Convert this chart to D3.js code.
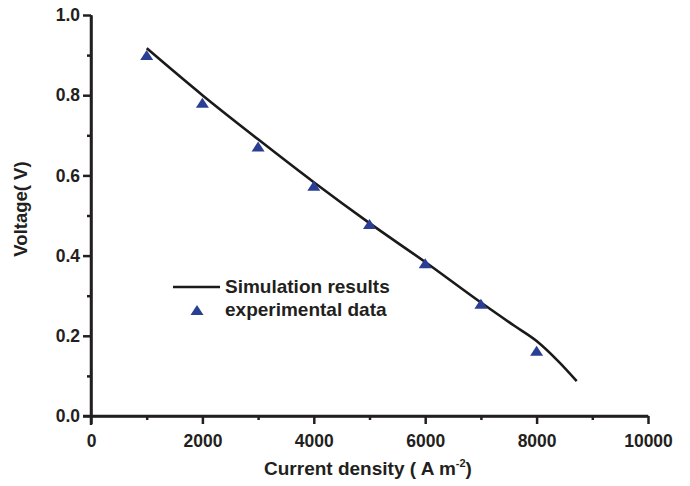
<!DOCTYPE html>
<html>
<head>
<meta charset="utf-8">
<script src="https://cdn.jsdelivr.net/npm/d3@7"></script>
<style>
  body { margin: 0; background: #fff; }
  svg text { font-family: "Liberation Sans", Arial, sans-serif; font-weight: bold; fill: #231f20; }
</style>
</head>
<body>
<div id="chart"></div>
<script>
// simulated polarisation curve
const simCurrent = [1000, 2000, 3000, 4000, 5000, 6000, 7000, 7600, 8000, 8400, 8720];
const simVoltage = [0.917, 0.80, 0.69, 0.583, 0.481, 0.384, 0.283, 0.225, 0.187, 0.135, 0.087];

// experimental points
const expCurrent = [1000, 2000, 3000, 4000, 5000, 6000, 7000, 8000];
const expVoltage = [0.90, 0.781, 0.672, 0.574, 0.479, 0.381, 0.28, 0.163];

const xTicks = [0, 2000, 4000, 6000, 8000, 10000];
const xMinor = [1000, 3000, 5000, 7000, 9000];
const yTicks = [0.0, 0.2, 0.4, 0.6, 0.8, 1.0];
const yMinor = [0.1, 0.3, 0.5, 0.7, 0.9];

const width = 690, height = 486;
const ink = "#231f20";
const blue = "#2a3f94";

const svg = d3.select("#chart").append("svg")
    .attr("width", width)
    .attr("height", height);

const x = d3.scaleLinear().domain([0, 10000]).range([91, 648]);
const y = d3.scaleLinear().domain([0, 1]).range([416, 15]);

function styleAxis(g){
    g.select(".domain").attr("stroke", ink).attr("stroke-width", 2.5);
    g.selectAll(".tick line").attr("stroke", ink).attr("stroke-width", 2.5);
    g.selectAll(".tick text").attr("font-size", 17.5);
}

// x axis
svg.append("g")
    .attr("transform", "translate(0," + y(0) + ")")
    .call(d3.axisBottom(x).tickValues(xMinor).tickSize(4).tickSizeOuter(0).tickFormat(""))
    .call(styleAxis);
svg.append("g")
    .attr("transform", "translate(0," + y(0) + ")")
    .call(d3.axisBottom(x).tickValues(xTicks).tickSize(8).tickSizeOuter(0).tickPadding(11).tickFormat(d3.format("d")))
    .call(styleAxis)
    .call(g => g.select(".domain").attr("d", "M83,0H" + x(10000)));

// y axis
svg.append("g")
    .attr("transform", "translate(" + x(0) + ",0)")
    .call(d3.axisLeft(y).tickValues(yMinor).tickSize(4).tickSizeOuter(0).tickFormat(""))
    .call(styleAxis);
svg.append("g")
    .attr("transform", "translate(" + x(0) + ",0)")
    .call(d3.axisLeft(y).tickValues(yTicks).tickSize(8).tickSizeOuter(0).tickPadding(3).tickFormat(d3.format(".1f")))
    .call(styleAxis)
    .call(g => g.select(".domain").attr("d", "M0," + y(1) + "V" + (y(0) + 9)));

// simulation line
const line = d3.line()
    .x(d => x(d[0]))
    .y(d => y(d[1]))
    .curve(d3.curveMonotoneX);

svg.append("path")
    .attr("d", line(d3.zip(simCurrent, simVoltage)))
    .attr("fill", "none")
    .attr("stroke", "#1a1a1a")
    .attr("stroke-width", 2.6);

// triangle marker centred on its box
function tri(cx, cy){
    const w = 6.5, h = 5;
    return "M" + cx + "," + (cy - h) + "L" + (cx + w) + "," + (cy + h) + "L" + (cx - w) + "," + (cy + h) + "Z";
}

svg.append("g").selectAll("path")
    .data(d3.zip(expCurrent, expVoltage))
    .join("path")
    .attr("d", d => tri(x(d[0]), y(d[1])))
    .attr("fill", blue);

// legend
const lg = svg.append("g");
lg.append("line")
    .attr("x1", 173).attr("x2", 220)
    .attr("y1", 287).attr("y2", 287)
    .attr("stroke", "#1a1a1a").attr("stroke-width", 2.6);
lg.append("text").attr("x", 225).attr("y", 293).attr("font-size", 19).text("Simulation results");
lg.append("path").attr("d", tri(197, 310)).attr("fill", blue);
lg.append("text").attr("x", 225).attr("y", 316).attr("font-size", 19).text("experimental data");

// axis titles
const xt = svg.append("text")
    .attr("x", 368).attr("y", 475)
    .attr("text-anchor", "middle")
    .attr("font-size", 19);
xt.append("tspan").text("Current density ( A m");
xt.append("tspan").attr("font-size", 11).attr("dy", -8).text("-2");
xt.append("tspan").attr("dy", 8).text(")");

svg.append("text")
    .attr("transform", "translate(27,209) rotate(-90)")
    .attr("text-anchor", "middle")
    .attr("font-size", 18.5)
    .text("Voltage( V)");
</script>
</body>
</html>
